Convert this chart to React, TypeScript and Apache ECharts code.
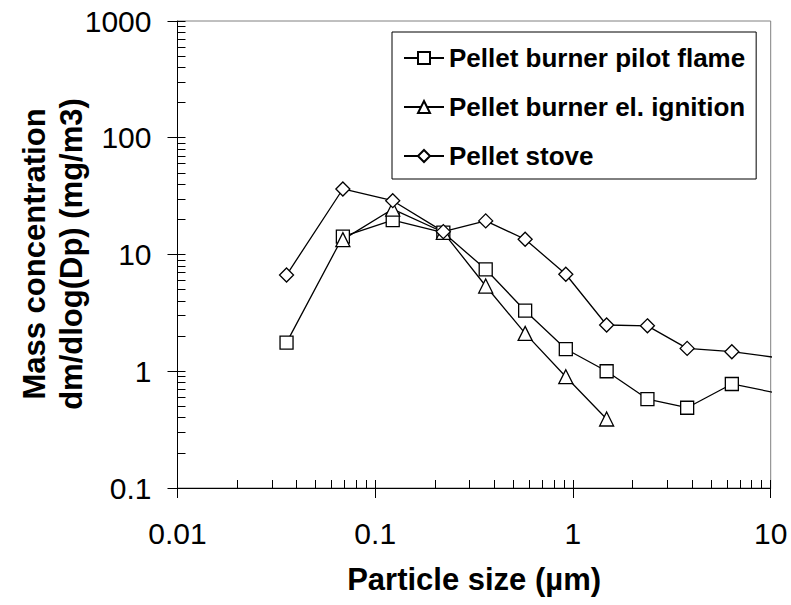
import React, { useEffect, useRef } from "react";
import * as echarts from "echarts";

const seriesNames = ["Pellet burner pilot flame", "Pellet burner el. ignition", "Pellet stove"];
const particleSize = [0.0356, 0.0686, 0.1226, 0.221, 0.362, 0.573, 0.92, 1.48, 2.38, 3.78, 6.36, 10.3];
const pilotFlame = [1.76, 14.2, 19.7, 15.4, 7.47, 3.3, 1.55, 1.0, 0.578, 0.487, 0.778, 0.66];
const elIgnitionSize = [0.0686, 0.1226, 0.221, 0.362, 0.573, 0.92, 1.48];
const elIgnition = [13.4, 24.5, 15.5, 5.37, 2.11, 0.898, 0.39];
const pelletStove = [6.67, 36.4, 28.9, 15.7, 19.4, 13.5, 6.77, 2.49, 2.45, 1.57, 1.47, 1.32];

const xMin = 0.01;
const xMax = 10;
const yMin = 0.1;
const yMax = 1000;

function logTicks(min: number, max: number): number[] {
  const out: number[] = [];
  for (let d = min; d < max * 0.999; d *= 10) {
    for (let k = 1; k <= 9; k++) out.push(parseFloat((d * k).toPrecision(3)));
  }
  out.push(max);
  return out;
}

const fmt = (v: number) => String(parseFloat(v.toPrecision(6)));

const FONT = '"Liberation Sans", Arial, sans-serif';

export default function App() {
  const ref = useRef<HTMLDivElement>(null);
  useEffect(() => {
    if (!ref.current) return;
    const chart = echarts.init(ref.current, null, { renderer: "svg" });
    const pair = (xs: number[], ys: number[]) => xs.map((x, i) => [x, ys[i]]);
    const base = {
      type: "line" as const,
      clip: true,
      itemStyle: { color: "#ffffff", borderColor: "#000000", borderWidth: 1.3 },
      lineStyle: { color: "#000000", width: 1.3 },
      emphasis: { disabled: true },
      z: 3,
    };
    chart.setOption({
      animation: false,
      backgroundColor: "#ffffff",
      textStyle: { fontFamily: FONT },
      grid: {
        left: 177.5,
        right: 20.3,
        top: 21,
        bottom: 117,
        show: true,
        borderColor: "#808080",
        borderWidth: 1,
        backgroundColor: "transparent",
      },
      legend: {
        orient: "vertical",
        left: 392,
        top: 32,
        padding: [13, 11, 10, 11],
        itemGap: 23,
        itemWidth: 40,
        itemHeight: 15,
        borderColor: "#000000",
        borderWidth: 1,
        backgroundColor: "#ffffff",
        textStyle: { fontFamily: FONT, fontSize: 26, fontWeight: "bold", color: "#000000" },
        data: seriesNames,
      },
      xAxis: [
        {
          type: "log",
          min: xMin,
          max: xMax,
          logBase: 10,
          name: "Particle size (µm)",
          nameLocation: "middle",
          nameGap: 76,
          nameTextStyle: { fontFamily: FONT, fontSize: 31, fontWeight: "bold", color: "#000000" },
          axisLine: { show: true, onZero: false, lineStyle: { color: "#000000", width: 1 } },
          axisTick: { show: true, inside: false, length: 10, lineStyle: { color: "#000000", width: 1 } },
          axisLabel: { fontFamily: FONT, fontSize: 30, color: "#000000", margin: 30, formatter: fmt },
          splitLine: { show: false },
          minorTick: { show: false },
        },
        {
          type: "log",
          min: xMin,
          max: xMax,
          logBase: 10,
          position: "bottom",
          axisLine: { show: false },
          axisTick: {
            show: true,
            inside: true,
            length: 8,
            customValues: logTicks(xMin, xMax),
            lineStyle: { color: "#000000", width: 1 },
          },
          axisLabel: { show: false },
          splitLine: { show: false },
        },
      ],
      yAxis: [
        {
          type: "log",
          min: yMin,
          max: yMax,
          logBase: 10,
          axisLine: { show: true, onZero: false, lineStyle: { color: "#000000", width: 1 } },
          axisTick: { show: true, inside: false, length: 10, lineStyle: { color: "#000000", width: 1 } },
          axisLabel: { fontFamily: FONT, fontSize: 30, color: "#000000", margin: 26, formatter: fmt },
          splitLine: { show: false },
        },
        {
          type: "log",
          min: yMin,
          max: yMax,
          logBase: 10,
          position: "left",
          axisLine: { show: false },
          axisTick: {
            show: true,
            inside: true,
            length: 8,
            customValues: logTicks(yMin, yMax),
            lineStyle: { color: "#000000", width: 1 },
          },
          axisLabel: { show: false },
          splitLine: { show: false },
        },
      ],
      graphic: [
        {
          type: "text",
          x: 53,
          y: 254,
          rotation: Math.PI / 2,
          style: {
            text: "Mass concentration\ndm/dlog(Dp) (mg/m3)",
            fontFamily: FONT,
            fontSize: 31,
            fontWeight: "bold",
            fill: "#000000",
            align: "center",
            verticalAlign: "middle",
            lineHeight: 37,
          },
        },
      ],
      series: [
        {
          ...base,
          name: seriesNames[0],
          symbol: "rect",
          symbolSize: 13,
          data: pair(particleSize, pilotFlame),
        },
        {
          ...base,
          name: seriesNames[1],
          symbol: "triangle",
          symbolSize: 14,
          data: pair(elIgnitionSize, elIgnition),
        },
        {
          ...base,
          name: seriesNames[2],
          symbol: "diamond",
          symbolSize: 14,
          data: pair(particleSize, pelletStove),
        },
      ],
    });
    return () => chart.dispose();
  }, []);
  return <div ref={ref} style={{ width: 791, height: 605, position: "absolute", left: 0, top: 0 }} />;
}
